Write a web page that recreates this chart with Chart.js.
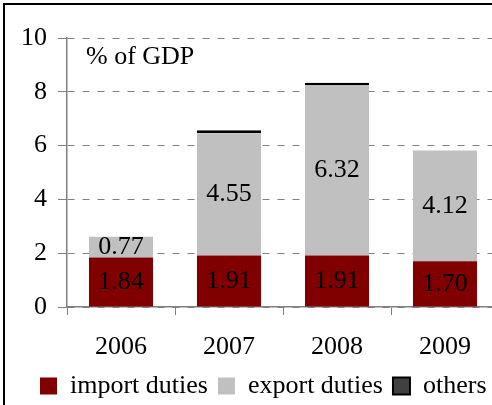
<!DOCTYPE html>
<html lang="en">
<head>
    <meta charset="UTF-8">
    <title>Duties, % of GDP</title>
    <script src="https://cdn.jsdelivr.net/npm/chart.js@4"></script>
    <style>
        html, body { margin: 0; padding: 0; background: #fff; overflow: hidden; }
        #wrap { width: 500px; height: 410px; }
    </style>
</head>
<body>
    <div id="wrap"><canvas id="dutiesChart" width="500" height="410"></canvas></div>
    <script>
        const years = ['2006', '2007', '2008', '2009'];
        const importDuties = [1.84, 1.91, 1.91, 1.70];
        const exportDuties = [0.77, 4.55, 6.32, 4.12];
        const others = [0, 0.11, 0.11, 0];
        const yTicks = [0, 2, 4, 6, 8, 10];
        const unitLabel = '% of GDP';

        const serif = 'Liberation Serif';

        // value labels in the middle of the import / export segments
        const segmentLabels = {
            id: 'segmentLabels',
            afterDatasetsDraw(chart) {
                const ctx = chart.ctx;
                ctx.save();
                ctx.font = '26px "' + serif + '"';
                ctx.fillStyle = '#000';
                ctx.textAlign = 'center';
                ctx.textBaseline = 'middle';
                [0, 1].forEach(di => {
                    const meta = chart.getDatasetMeta(di);
                    meta.data.forEach((bar, i) => {
                        const v = chart.data.datasets[di].data[i];
                        const p = bar.getProps(['x', 'y', 'base'], true);
                        ctx.fillText(v.toFixed(2), p.x, (p.y + p.base) / 2);
                    });
                });
                ctx.restore();
            }
        };

        // unit note inside the plot, frame line top/left, legend nudged right
        const decorations = {
            id: 'decorations',
            afterLayout(chart) {
                chart.legend.left += 17;
                chart.legend.right += 17;
            },
            afterDraw(chart) {
                const ctx = chart.ctx;
                const area = chart.chartArea;
                ctx.save();
                ctx.font = '26px "' + serif + '"';
                ctx.fillStyle = '#000';
                ctx.textAlign = 'left';
                ctx.textBaseline = 'middle';
                ctx.fillText(unitLabel, area.left + 19, area.top + 19);
                ctx.fillRect(3, 3, chart.width, 2);
                ctx.fillRect(3, 3, 2, chart.height);
                ctx.restore();
            }
        };

        const ctx = document.getElementById('dutiesChart').getContext('2d');
        const dutiesChart = new Chart(ctx, {
            type: 'bar',
            data: {
                labels: years,
                datasets: [{
                    label: 'import duties',
                    data: importDuties,
                    backgroundColor: '#800000',
                    borderWidth: 0
                }, {
                    label: 'export duties',
                    data: exportDuties,
                    backgroundColor: '#c0c0c0',
                    borderWidth: 0
                }, {
                    label: 'others',
                    data: others,
                    backgroundColor: '#404040',
                    borderColor: '#000',
                    borderWidth: 2,
                    borderSkipped: false
                }]
            },
            options: {
                responsive: false,
                animation: false,
                events: [],
                layout: { padding: { left: 13, right: 1, top: 38, bottom: 1 } },
                datasets: {
                    bar: { categoryPercentage: 1, barPercentage: 0.593 }
                },
                plugins: {
                    tooltip: { enabled: false },
                    legend: {
                        position: 'bottom',
                        align: 'start',
                        labels: {
                            boxWidth: 17,
                            boxHeight: 17,
                            padding: 10,
                            color: '#000',
                            font: { family: serif, size: 26 }
                        }
                    }
                },
                scales: {
                    x: {
                        stacked: true,
                        afterFit(scale) { scale.height = 56; },
                        grid: {
                            offset: true,
                            drawOnChartArea: false,
                            drawTicks: true,
                            tickLength: 8,
                            tickColor: '#808080'
                        },
                        border: { display: true, color: '#808080', width: 1.5 },
                        ticks: {
                            color: '#000',
                            padding: 17,
                            font: { family: serif, size: 26 }
                        }
                    },
                    y: {
                        stacked: true,
                        min: yTicks[0],
                        max: yTicks[yTicks.length - 1],
                        afterFit(scale) { scale.width = 54; },
                        afterBuildTicks(scale) {
                            scale.ticks = yTicks.map(v => ({ value: v }));
                        },
                        grid: {
                            color: '#808080',
                            lineWidth: 1,
                            drawTicks: true,
                            tickLength: 9,
                            tickColor: '#808080',
                            tickBorderDash: []
                        },
                        border: { display: true, color: '#808080', width: 1.5, dash: [7, 8] },
                        ticks: {
                            color: '#000',
                            padding: 11,
                            font: { family: serif, size: 26 }
                        }
                    }
                }
            },
            plugins: [segmentLabels, decorations]
        });
    </script>
</body>
</html>
